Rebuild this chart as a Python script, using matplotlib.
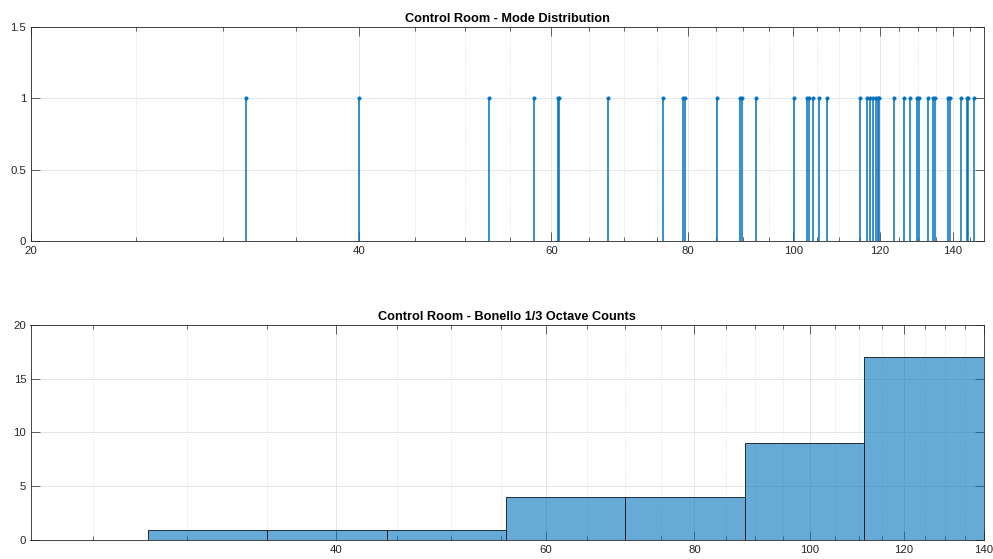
import numpy as np
import matplotlib
matplotlib.use("Agg")
import matplotlib.pyplot as plt
from matplotlib.ticker import FixedLocator, NullFormatter, FixedFormatter

plt.rcParams['font.family'] = ['Liberation Sans', 'DejaVu Sans']

# ---------------- data ----------------
mode_freqs = [31.5, 40.0, 52.6, 57.9, 60.8, 61.0, 67.6, 75.9, 79.3, 79.6,
              85.2, 89.4, 89.8, 92.5, 100.2, 102.9, 103.3, 104.2, 105.6, 107.4,
              115.1, 116.7, 117.5, 118.2, 119.0, 119.5, 119.9, 123.6, 126.4, 127.8,
              129.7, 130.4, 132.9, 134.3, 134.9, 138.7, 139.2, 142.4, 144.2, 144.6,
              146.5]
mode_heights = [1, 1, 1, 1, 1, 1, 1, 1, 1, 1,
                1, 1, 1, 1, 1, 1, 1, 1, 1, 1,
                1, 1, 1, 1, 1, 1, 1, 1, 1, 1,
                1, 1, 1, 1, 1, 1, 1, 1, 1, 1,
                1]
band_edges = [27.8, 35.0, 44.1, 55.6, 70.0, 88.2, 111.1, 140.0]
band_counts = [1, 1, 1, 4, 4, 9, 17]

x_major = [20, 40, 60, 80, 100, 120, 140]
x_major_labels = ["20", "40", "60", "80", "100", "120", "140"]
x_minor = [25, 30, 35, 45, 50, 55, 65, 70, 75, 85, 90, 95, 105, 110, 115,
           125, 130, 135, 145]

top_yticks = [0, 0.5, 1, 1.5]
top_yticklabels = ["0", "0.5", "1", "1.5"]
bot_yticks = [0, 5, 10, 15, 20]

title_top = "Control Room - Mode Distribution"
title_bot = "Control Room - Bonello 1/3 Octave Counts"

# ---------------- style ----------------
W, H = 993, 559
fig = plt.figure(figsize=(W / 100, H / 100), dpi=100)
blue = '#0072BD'
axcol = '#262626'


def style_axes(ax, xlim, majors, labels, minors):
    ax.set_xscale('log')
    ax.set_xlim(*xlim)
    ax.xaxis.set_major_locator(FixedLocator(majors))
    ax.xaxis.set_major_formatter(FixedFormatter(labels))
    ax.xaxis.set_minor_locator(FixedLocator(minors))
    ax.xaxis.set_minor_formatter(NullFormatter())
    ax.tick_params(which='both', direction='in', top=True, right=True,
                   colors=axcol, labelsize=8.2, width=0.5)
    ax.tick_params(which='major', length=6.5)
    ax.tick_params(which='minor', length=3)
    ax.tick_params(axis='x', pad=3.5)
    ax.tick_params(axis='y', pad=3.0)
    for s in ax.spines.values():
        s.set_color(axcol)
        s.set_linewidth(0.6)
    ax.grid(True, which='major', color='#e2e2e2', linewidth=0.6, linestyle='-')
    ax.grid(True, which='minor', axis='x', color='#d6d6d6', linewidth=0.6,
            linestyle=(0, (1, 2)))
    ax.set_axisbelow(True)


# top axes
ax1 = fig.add_axes([30.5 / W, 1 - 241 / H, (984 - 30.5) / W, (241 - 27) / H])
ml, sl, bl = ax1.stem(mode_freqs, mode_heights, basefmt=' ')
plt.setp(sl, color=blue, linewidth=1.1)
plt.setp(ml, color=blue, marker='o', markersize=2.4, markerfacecolor=blue,
         markeredgewidth=0.5)
ax1.set_ylim(0, 1.5)
ax1.set_yticks(top_yticks)
ax1.set_yticklabels(top_yticklabels)
style_axes(ax1, (20, 149.5), x_major, x_major_labels, x_minor)
ax1.set_title(title_top, fontsize=9.2, fontweight='bold', pad=3.5)

# bottom axes
ax2 = fig.add_axes([30.5 / W, 1 - 540.3 / H, (983.7 - 30.5) / W, (540.3 - 324.7) / H])
edges = np.array(band_edges)
ax2.bar(edges[:-1], band_counts, width=np.diff(edges), align='edge',
        color=blue, alpha=0.6, edgecolor='none', zorder=2)
ax2.bar(edges[:-1], band_counts, width=np.diff(edges), align='edge',
        facecolor='none', edgecolor='#1a1a1a', linewidth=0.6, zorder=3)
ax2.set_ylim(0, 20)
ax2.set_yticks(bot_yticks)
style_axes(ax2, (22.15, 140), x_major, x_major_labels, x_minor)
ax2.set_title(title_bot, fontsize=9.2, fontweight='bold', pad=3.5)

fig.savefig('out.png', dpi=100)
